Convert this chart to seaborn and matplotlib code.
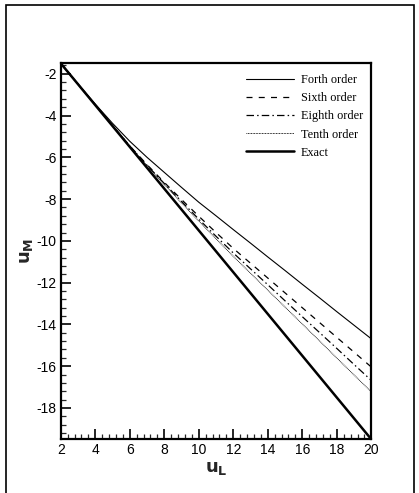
import matplotlib
matplotlib.use("Agg")
import matplotlib.pyplot as plt
import matplotlib.patches as mpatches
from matplotlib.ticker import MultipleLocator
import pandas as pd
import seaborn as sns

u_L = [2, 3, 4, 5, 6, 7, 8, 9, 10, 11, 12, 13, 14, 15, 16, 17, 18, 19, 20]

forth_order = [-1.5, -2.49, -3.45, -4.37, -5.23, -6.0, -6.72, -7.44, -8.15, -8.80,
               -9.46, -10.11, -10.77, -11.42, -12.08, -12.73, -13.39, -14.04, -14.69]
sixth_order = [-1.5, -2.5, -3.49, -4.48, -5.45, -6.35, -7.2, -8.02, -8.82, -9.6,
               -10.36, -11.07, -11.78, -12.49, -13.2, -13.91, -14.62, -15.33, -16.04]
eighth_order = [-1.5, -2.5, -3.49, -4.48, -5.46, -6.38, -7.25, -8.11, -8.96, -9.78,
                -10.58, -11.34, -12.1, -12.87, -13.63, -14.39, -15.15, -15.92, -16.68]
tenth_order = [-1.5, -2.5, -3.5, -4.49, -5.47, -6.4, -7.3, -8.18, -9.05, -9.9,
               -10.74, -11.55, -12.36, -13.17, -13.98, -14.79, -15.61, -16.42, -17.23]
exact = [-1.5, -2.5, -3.5, -4.5, -5.5, -6.5, -7.5, -8.5, -9.5, -10.5,
         -11.5, -12.5, -13.5, -14.5, -15.5, -16.5, -17.5, -18.5, -19.5]

series_names = ["Forth order", "Sixth order", "Eighth order", "Tenth order", "Exact"]
series_values = [forth_order, sixth_order, eighth_order, tenth_order, exact]

x_ticks = [2, 4, 6, 8, 10, 12, 14, 16, 18, 20]
y_ticks = [-2, -4, -6, -8, -10, -12, -14, -16, -18]

df = pd.DataFrame({
    "u_L": u_L * len(series_names),
    "u_M": [v for vals in series_values for v in vals],
    "series": [name for name in series_names for _ in u_L],
})

sns.set_theme(style="white")
plt.rcParams["font.family"] = ["Liberation Sans", "DejaVu Sans"]
plt.rcParams["axes.unicode_minus"] = False

fig = plt.figure(figsize=(4.19, 4.93), dpi=100)
ax = fig.add_axes([0.1449, 0.1089, 0.7413, 0.7627])

line_styles = {
    "Forth order": dict(linestyle="-", linewidth=0.8),
    "Sixth order": dict(linestyle=(0, (4.8, 5.0)), linewidth=0.9),
    "Eighth order": dict(linestyle=(0, (6, 2.5, 1.2, 2.5)), linewidth=0.9),
    "Tenth order": dict(linestyle=(0, (0.8, 0.8)), linewidth=0.7),
    "Exact": dict(linestyle="-", linewidth=1.8),
}

for name in series_names:
    sub = df[df["series"] == name]
    sns.lineplot(data=sub, x="u_L", y="u_M", ax=ax, color="black",
                 label=name, **line_styles[name])

ax.set_xlim(2, 20)
ax.set_ylim(-19.5, -1.5)
ax.set_xticks(x_ticks)
ax.set_yticks(y_ticks)
ax.xaxis.set_minor_locator(MultipleLocator(0.4))
ax.yaxis.set_minor_locator(MultipleLocator(0.4))
ax.tick_params(which="major", direction="in", length=7, width=1.2,
               labelsize=10, pad=3, colors="black",
               bottom=True, left=True, top=False, right=False)
ax.tick_params(which="minor", direction="in", length=3.5, width=0.9,
               bottom=True, left=True, top=False, right=False)
for spine in ax.spines.values():
    spine.set_visible(True)
    spine.set_color("black")
    spine.set_linewidth(1.6)

ax.set_xlabel(r"$\mathbf{u}_{\mathbf{L}}$", fontsize=13, labelpad=2)
ax.set_ylabel(r"$\mathbf{u}_{\mathbf{M}}$", fontsize=13, labelpad=1)

leg = ax.legend(loc="upper left", bbox_to_anchor=(0.598, 0.971), frameon=False,
                prop={"family": "Liberation Serif", "size": 8.8},
                handlelength=3.9, handletextpad=0.55, labelspacing=0.5,
                borderpad=0, borderaxespad=0)
for t in leg.get_texts():
    t.set_color("black")

# outer frame around the whole figure
frame = mpatches.Rectangle((6 / 419, -0.05), (414 - 6) / 419, (493 - 5) / 493 + 0.05,
                           transform=fig.transFigure, fill=False,
                           edgecolor="black", linewidth=1.2, clip_on=False)
fig.patches.append(frame)

fig.savefig("out.png", dpi=100)
